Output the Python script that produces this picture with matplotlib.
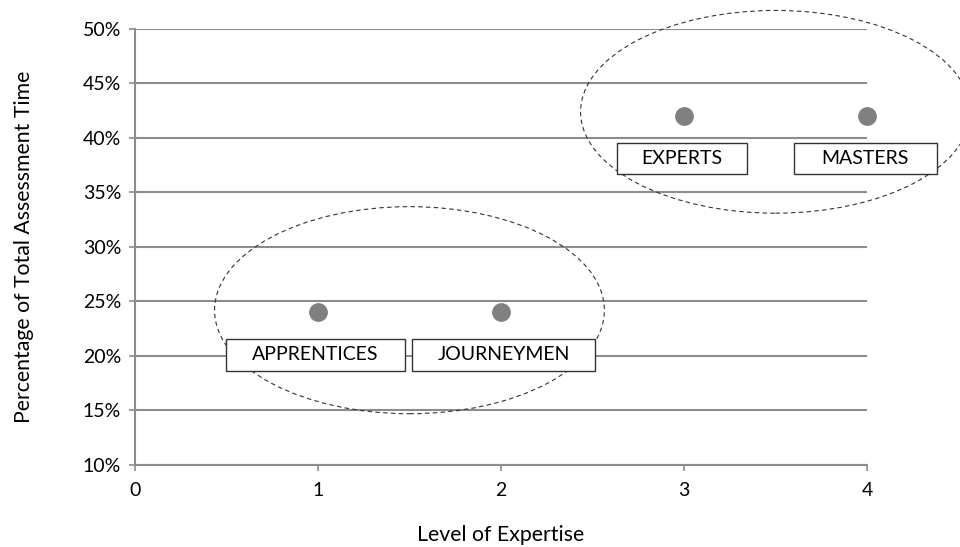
import matplotlib
matplotlib.use("Agg")
import matplotlib.pyplot as plt
from matplotlib.patches import Ellipse, Rectangle
from matplotlib.ticker import PercentFormatter

plt.rcParams['font.family'] = ['Lato', 'DejaVu Sans']

# data
levels = [1, 2, 3, 4]
share = [0.24, 0.24, 0.42, 0.42]
groups = ["APPRENTICES", "JOURNEYMEN", "EXPERTS", "MASTERS"]

# label boxes (x shift, centre y, width in x-units) and group ellipses
label_dx = [-0.014, 0.016, -0.01, -0.01]
label_y = [0.201, 0.201, 0.381, 0.381]
box_w = [0.98, 1.0, 0.71, 0.78]
box_h = 0.029
ellipses = [(1.5, 0.242, 2.13, 0.19), (3.5, 0.424, 2.13, 0.186)]

fig = plt.figure(figsize=(9.6, 5.47), dpi=100)
ax = fig.add_axes([0.1406, 0.150, 0.7625, 0.797])

grid_c = "#8c8c8c"
ax.set_xlim(0, 4)
ax.set_ylim(0.10, 0.50)
ax.set_yticks([0.10, 0.15, 0.20, 0.25, 0.30, 0.35, 0.40, 0.45, 0.50])
ax.set_xticks([0, 1, 2, 3, 4])
ax.yaxis.set_major_formatter(PercentFormatter(1.0, decimals=0))
ax.grid(axis='y', color=grid_c, linewidth=1.5)
ax.set_axisbelow(True)
for s in ['top', 'right']:
    ax.spines[s].set_visible(False)
for s in ['left', 'bottom']:
    ax.spines[s].set_color(grid_c)
    ax.spines[s].set_linewidth(1.5)
ax.tick_params(axis='both', colors=grid_c, labelcolor='black', labelsize=14, width=1.2, length=4)
ax.tick_params(axis='x', pad=8)
ax.tick_params(axis='y', pad=6)

ax.plot(levels, share, 'o', color='#808080', markersize=12.5, zorder=3, clip_on=False)

for (cx, cy, w, h) in ellipses:
    ax.add_patch(Ellipse((cx, cy), w, h, fill=False, linestyle=(0, (4, 3)),
                         linewidth=0.8, edgecolor='#333333', clip_on=False, zorder=4))

for x, dx, y, w, name in zip(levels, label_dx, label_y, box_w, groups):
    ax.add_patch(Rectangle((x + dx - w / 2, y - box_h / 2), w, box_h, facecolor='white',
                           edgecolor='#333333', linewidth=1.0, clip_on=False, zorder=5))
    ax.text(x + dx, y, name, ha='center', va='center', fontsize=14, zorder=6)

ax.set_xlabel("Level of Expertise", fontsize=15.3, va='center')
ax.set_ylabel("Percentage of Total Assessment Time", fontsize=15.3, va='center')
ax.xaxis.set_label_coords(0.5, -0.161)
ax.yaxis.set_label_coords(-0.152, 0.5)

fig.savefig("out.png", dpi=100)
